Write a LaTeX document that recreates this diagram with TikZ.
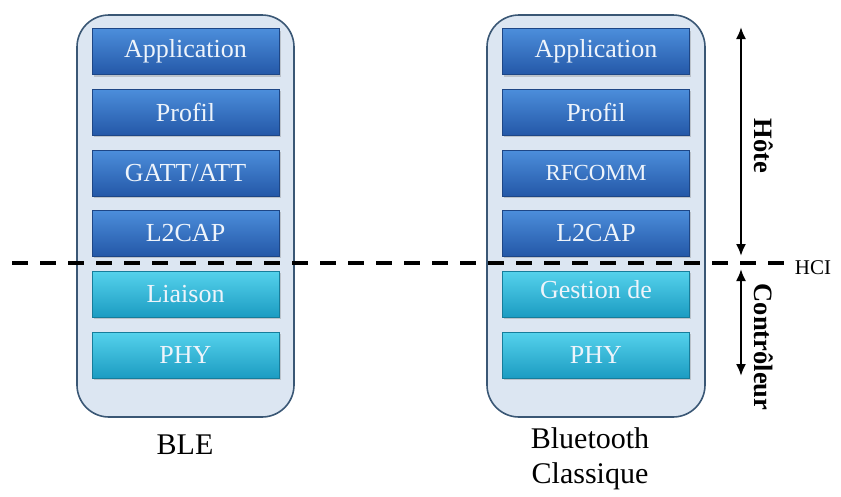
\documentclass[tikz,border=0pt]{standalone}
\usepackage{fontspec}
\setmainfont{Liberation Serif}
\usetikzlibrary{arrows.meta,shadows}
\definecolor{stackfill}{HTML}{DCE6F2}
\definecolor{stackline}{HTML}{3A5775}
\definecolor{hosttop}{HTML}{4C8EDB}
\definecolor{hostbot}{HTML}{2458A8}
\definecolor{ctrltop}{HTML}{55D2EC}
\definecolor{ctrlbot}{HTML}{1C9CC2}
\definecolor{layertext}{HTML}{EEF4FB}
\tikzset{
  stack/.style={draw=stackline,line width=1.6pt,fill=stackfill,rounded corners=32pt},
  layer/.style={minimum width=187pt,minimum height=46pt,inner sep=0pt,
    text=layertext,font=\fontsize{26}{30}\selectfont,
    drop shadow={shadow xshift=1.5pt,shadow yshift=-2pt,opacity=0.35}},
  hostlayer/.style={layer,top color=hosttop,bottom color=hostbot,draw=hostbot!80!black,line width=0.4pt},
  ctrllayer/.style={layer,top color=ctrltop,bottom color=ctrlbot,draw=ctrlbot!80!black,line width=0.4pt},
  caption/.style={font=\fontsize{30}{35}\selectfont,align=center},
  side/.style={font=\bfseries\fontsize{26.5}{30}\selectfont,rotate=-90},
}
\begin{document}
\begin{tikzpicture}[x=1pt,y=-1pt]
\useasboundingbox (0,0) rectangle (841,496);
% piles
\draw [stack] (77,15) rectangle (294,417);
\draw [stack] (487,15) rectangle (705,417);
% BLE
\node (bleapp) at (185.5,51.5) [hostlayer] {Application};
\node (bleprof) at (185.5,112) [hostlayer] {Profil};
\node (blegatt) at (185.5,173) [hostlayer] {GATT/ATT};
\node (blel2cap) at (185.5,233) [hostlayer] {L2CAP};
\node (bleliaison) at (185.5,294) [ctrllayer] {Liaison};
\node (blephy) at (185.5,355) [ctrllayer] {PHY};
\node (blename) at (185,445) [caption] {BLE};
% Bluetooth classique
\node (btapp) at (596,51.5) [hostlayer] {Application};
\node (btprof) at (596,112) [hostlayer] {Profil};
\node (btrfcomm) at (596,173) [hostlayer,font=\fontsize{23}{27}\selectfont] {RFCOMM};
\node (btl2cap) at (596,233) [hostlayer] {L2CAP};
\node (btgestion) at (596,294) [ctrllayer,text depth=9pt] {Gestion de};
\node (btphy) at (596,355) [ctrllayer] {PHY};
\node (btname) at (590,459) [caption] {Bluetooth\\Classique};
% HCI
\coordinate (hcileft) at (12,263);
\coordinate (hciright) at (784,263);
\draw [line width=4pt,dash pattern=on 16pt off 12pt] (hcileft) -- (hciright);
\node (hci) at (813,268) [font=\fontsize{21}{25}\selectfont] {HCI};
% hote / controleur
\coordinate (hotetop) at (741,27);
\coordinate (hotebot) at (741,256);
\coordinate (ctrltopend) at (741,269);
\coordinate (ctrlbotend) at (741,376);
\draw [line width=2pt,{Latex[length=12pt,width=10pt]}-{Latex[length=12pt,width=10pt]}] (hotetop) -- (hotebot);
\draw [line width=2pt,{Latex[length=12pt,width=10pt]}-{Latex[length=12pt,width=10pt]}] (ctrltopend) -- (ctrlbotend);
\node (hote) at (764,146) [side] {Hôte};
\node (ctrl) at (764,347) [side] {Contrôleur};
\end{tikzpicture}
\end{document}
